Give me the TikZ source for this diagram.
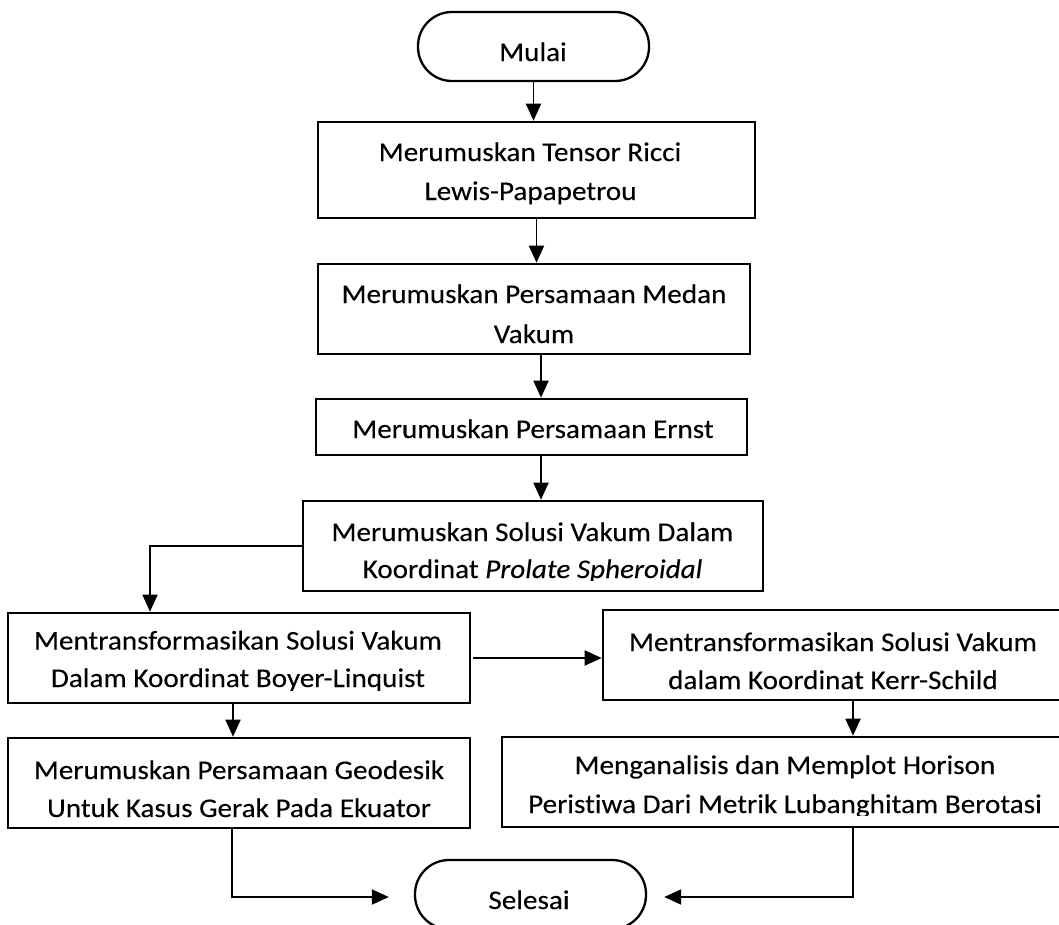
\documentclass[tikz,border=0pt]{standalone}
\usepackage{fontspec}
\setmainfont{Carlito}[FakeStretch=1.08, FakeBold=0.15, Ligatures={NoCommon}]
\usetikzlibrary{arrows.meta}
\begin{document}
\begin{tikzpicture}[x=1pt,y=-1pt,
  box/.style={draw, line width=2.6pt, inner sep=0pt, rectangle},
  term/.style={draw, line width=2.3pt, rounded corners=34pt, minimum width=231pt, minimum height=69pt, inner sep=0pt},
  txt/.style={anchor=base, inner sep=0pt, font=\fontsize{27}{39}\selectfont},
  arr/.style={line width=1.8pt, -{Triangle[length=17pt,width=15pt]}}]
\clip (0,0) rectangle (1059,924);
\fill[white] (0,0) rectangle (1059,924);

% start
\node[term] (mulai) at (533.5,46.5) {};
\node[txt] (tm) at (533,61) {Mulai};

% box 1
\node[box, minimum width=437pt, minimum height=96pt] (b1) at (536.5,170) {};
\node[txt] (t1a) at (530,161) {Merumuskan Tensor Ricci};
\node[txt] (t1b) at (530.5,200) {Lewis-Papapetrou};

% box 2
\node[box, minimum width=432pt, minimum height=90pt] (b2) at (534,309) {};
\node[txt] (t2a) at (534,303) {Merumuskan Persamaan Medan};
\node[txt] (t2b) at (534,343) {Vakum};

% box 3
\node[box, minimum width=431pt, minimum height=56pt] (b3) at (531.5,427) {};
\node[txt] (t3a) at (533,438) {Merumuskan Persamaan Ernst};

% box 4
\node[box, minimum width=460pt, minimum height=90pt] (b4) at (533,546) {};
\node[txt] (t4a) at (532.5,541) {Merumuskan Solusi Vakum Dalam};
\begin{scope}
\clip (303,550) rectangle (763,580);
\node[txt] (t4b) at (532.5,578) {Koordinat \textit{Prolate Spheroidal}};
\end{scope}

% box 5
\node[box, minimum width=462pt, minimum height=90pt] (b5) at (239,658) {};
\node[txt] (t5a) at (238,649.5) {Mentransformasikan Solusi Vakum};
\begin{scope}
\clip (8,660) rectangle (470,690);
\node[txt] (t5b) at (238,687) {Dalam Koordinat Boyer-Linquist};
\end{scope}

% box 6
\node[box, minimum width=460pt, minimum height=90pt] (b6) at (833,655) {};
\node[txt] (t6a) at (833,651) {Mentransformasikan Solusi Vakum};
\node[txt] (t6b) at (833,689) {dalam Koordinat Kerr-Schild};

% box 7
\node[box, minimum width=566pt, minimum height=90pt] (b7) at (785,782) {};
\node[txt] (t7a) at (785,774) {Menganalisis dan Memplot Horison};
\begin{scope}
\clip (502,785) rectangle (1068,815);
\node[txt] (t7b) at (785,813) {Peristiwa Dari Metrik Lubanghitam Berotasi};
\end{scope}

% box 8
\node[box, minimum width=462pt, minimum height=90pt] (b8) at (239,783) {};
\node[txt] (t8a) at (239,779) {Merumuskan Persamaan Geodesik};
\node[txt] (t8b) at (239,817) {Untuk Kasus Gerak Pada Ekuator};

% end
\node[term] (sel) at (530.5,894.5) {};
\node[txt] (ts) at (529,909) {Selesai};

% connectors
\draw[arr] (mulai.south) -- (mulai.south |- b1.north);
\draw[arr] (b1.south) -- (b1.south |- b2.north);
\draw[arr] ([xshift=7pt]b2.south) -- ([xshift=7pt]b2.south |- b3.north);
\draw[arr] ([xshift=9.5pt]b3.south) -- ([xshift=9.5pt]b3.south |- b4.north);
\draw[arr] (b4.west) -| ([xshift=-89pt]b5.north);
\draw[arr] ([xshift=-6pt]b5.south) -- ([xshift=-6pt]b5.south |- b8.north);
\draw[arr] ([xshift=2pt]b5.east) -- (b6.west |- b5.east);
\draw[arr] ([xshift=20pt]b6.south) -- ([xshift=20pt]b6.south |- b7.north);
\draw[arr] ([xshift=-7pt]b8.south) |- ([xshift=-25pt,yshift=-2.5pt]sel.west);
\draw[arr] ([xshift=68pt]b7.south) |- ([xshift=17pt,yshift=-2.5pt]sel.east);
\end{tikzpicture}
\end{document}
